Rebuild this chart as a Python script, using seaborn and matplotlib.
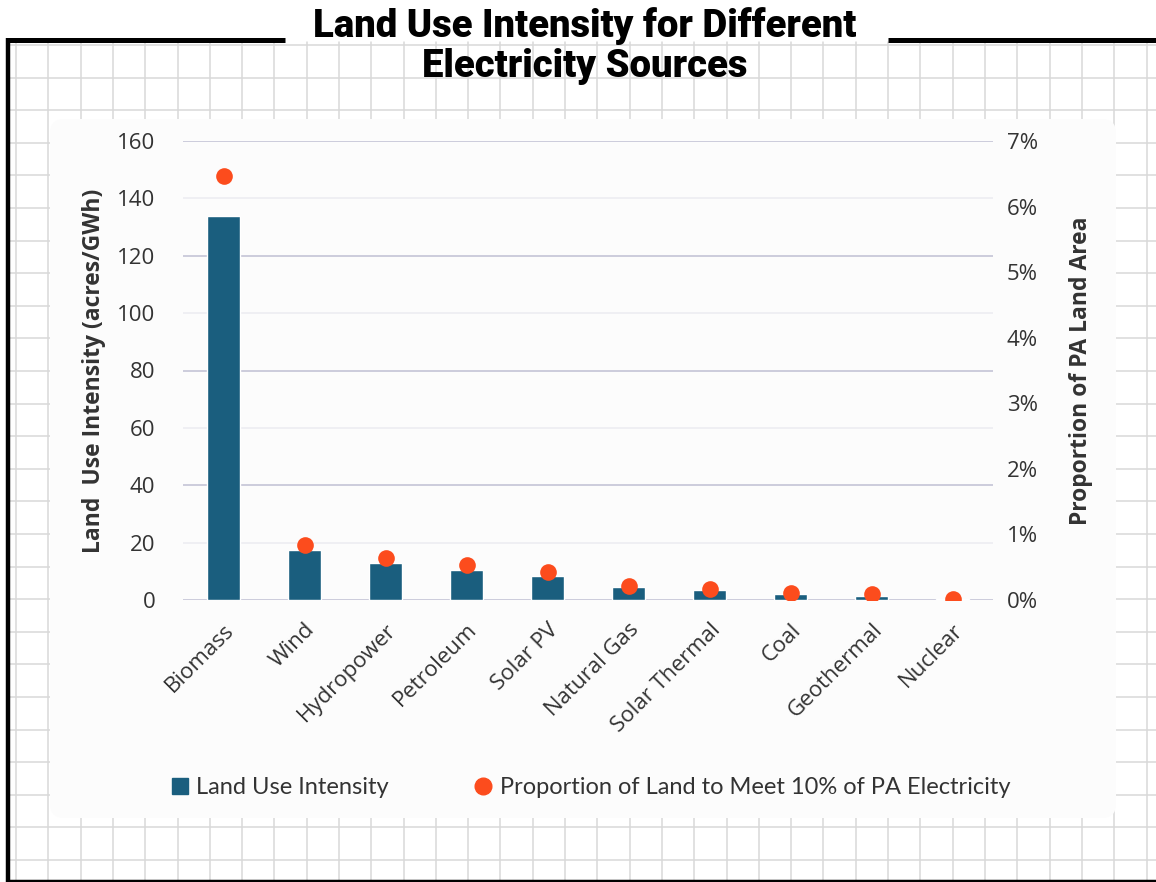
import numpy as np
import pandas as pd
import matplotlib
matplotlib.use("Agg")
import matplotlib.pyplot as plt
from matplotlib.lines import Line2D
from matplotlib.patches import FancyBboxPatch
import seaborn as sns

# Data
sources = ['Biomass', 'Wind', 'Hydropower', 'Petroleum', 'Solar PV',
           'Natural Gas', 'Solar Thermal', 'Coal', 'Geothermal', 'Nuclear']
intensity = [134, 17.6, 12.9, 10.6, 8.5, 4.5, 3.5, 2.1, 1.5, 0.3]
proportion = [6.47, 0.84, 0.64, 0.53, 0.43, 0.21, 0.17, 0.11, 0.09, 0.02]
left_ticks = [0, 20, 40, 60, 80, 100, 120, 140, 160]
right_ticks = [0, 1, 2, 3, 4, 5, 6, 7]

df = pd.DataFrame({'source': sources, 'intensity': intensity, 'proportion': proportion})

bar_color = '#1a5e7e'
dot_color = '#fc4c1d'
text_color = '#333333'

sns.set_style("white")
plt.rcParams['font.family'] = ['Open Sans', 'DejaVu Sans']

W, H = 1156, 882
fig = plt.figure(figsize=(W / 100, H / 100), dpi=100)
fig.patch.set_facecolor('white')

# graph-paper background drawn in pixel coordinates
bg = fig.add_axes([0, 0, 1, 1], zorder=-5)
bg.set_xlim(0, W)
bg.set_ylim(H, 0)
bg.axis('off')
for gx in np.arange(16, W, 32.3):
    bg.plot([gx, gx], [42, 880], color='#d8d8d8', lw=1.1, zorder=0)
for gy in np.arange(45, 880, 32.6):
    bg.plot([8, W], [gy, gy], color='#d8d8d8', lw=1.1, zorder=0)
bg.add_patch(FancyBboxPatch((50, 119), 1066, 699, boxstyle='round,pad=0,rounding_size=14',
                            facecolor='#fcfcfc', edgecolor='none', zorder=1))
# black frame lines
bg.plot([8, 8], [38, H], color='black', lw=3.2, solid_capstyle='butt', zorder=3)
bg.plot([6, 285], [40, 40], color='black', lw=3.6, solid_capstyle='butt', zorder=3)
bg.plot([888, W], [40, 40], color='black', lw=3.6, solid_capstyle='butt', zorder=3)
bg.plot([6, W], [880.5, 880.5], color='black', lw=2.5, solid_capstyle='butt', zorder=3)

fig.text(585 / W, 1 - 46 / H, 'Land Use Intensity for Different\nElectricity Sources',
         ha='center', va='center', fontsize=27.5, fontweight='heavy',
         family=['Roboto', 'DejaVu Sans'], color='black', linespacing=1.1)

ax = fig.add_axes([183 / W, 1 - 600 / H, 810 / W, 459 / H])
ax.set_facecolor('none')
sns.barplot(data=df, x='source', y='intensity', color=bar_color, width=0.4,
            saturation=1, ax=ax, zorder=3)
ax.set_ylim(0, 160)
ax.set_xlim(-0.5, 9.5)
ax.set_yticks(left_ticks)
ax.set_axisbelow(True)
for v in left_ticks:
    ax.axhline(v, color='#c9c9d9' if v % 40 == 0 else '#eeeef3', lw=1.3, zorder=0)
sns.despine(ax=ax, left=True, bottom=True, top=True, right=True)
ax.tick_params(axis='y', length=0, pad=20, labelsize=16, labelcolor=text_color)
ax.tick_params(axis='x', length=0, pad=14, labelsize=16, labelcolor=text_color)
for lab in ax.get_xticklabels():
    lab.set_rotation(45)
    lab.set_ha('right')
    lab.set_rotation_mode('anchor')
ax.set_xlabel('')
ax.set_ylabel('Land  Use Intensity (acres/GWh)', fontsize=16.5, fontweight='bold',
              color=text_color, labelpad=8)

ax2 = ax.twinx()
sns.stripplot(data=df, x='source', y='proportion', color=dot_color, size=12,
              jitter=False, ax=ax2, zorder=5)
ax2.set_ylim(0, 7)
ax2.set_yticks(right_ticks)
ax2.set_yticklabels([f'{t}%' for t in right_ticks])
ax2.set_xlim(-0.5, 9.5)
sns.despine(ax=ax2, left=True, bottom=True, top=True, right=True)
ax2.tick_params(axis='y', length=0, pad=10, labelsize=16, labelcolor=text_color)
ax2.set_ylabel('Proportion of PA Land Area', fontsize=16.5, fontweight='bold',
               color=text_color, labelpad=22)

handles = [Line2D([], [], marker='s', ls='none', color=bar_color, markersize=12),
           Line2D([], [], marker='o', ls='none', color=dot_color, markersize=12)]
fig.legend(handles, ['Land Use Intensity', 'Proportion of Land to Meet 10% of PA Electricity'],
           loc='center', bbox_to_anchor=(589 / W, 1 - 788 / H), ncol=2, frameon=False,
           handletextpad=0.2, columnspacing=3.5, handlelength=1.0,
           prop={'family': ['Lato', 'DejaVu Sans'], 'size': 17},
           labelcolor=text_color)

fig.savefig('out.png', dpi=100)
